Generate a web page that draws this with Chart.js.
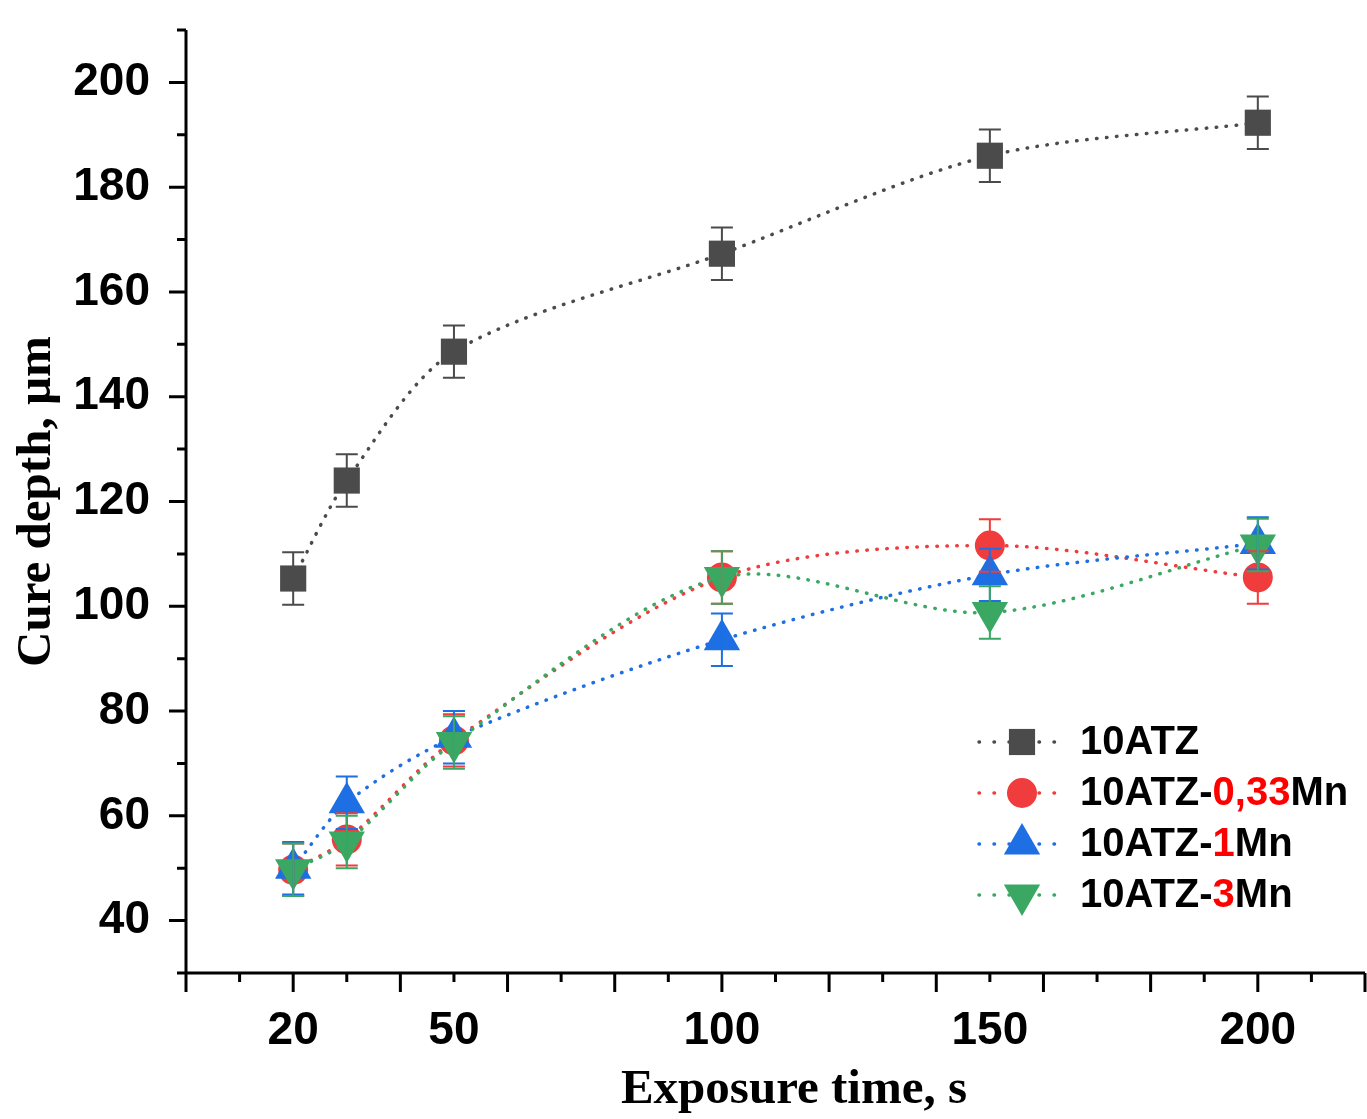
<!DOCTYPE html>
<html>
<head>
<meta charset="utf-8">
<script src="https://cdn.jsdelivr.net/npm/chart.js@4.4.1/dist/chart.umd.min.js"></script>
<style>
  html, body { margin: 0; padding: 0; background: #fff; }
</style>
</head>
<body>
<canvas id="cureChart" width="1367" height="1119"></canvas>
<script>
// ---- data ----
const exposureTimes = [20, 30, 50, 100, 150, 200];
const xTickLabels = [20, 50, 100, 150, 200];
const yTickLabels = [40, 60, 80, 100, 120, 140, 160, 180, 200];

const seriesNames = ['10ATZ', '10ATZ-0,33Mn', '10ATZ-1Mn', '10ATZ-3Mn'];
const atzDepth   = [105.3, 124.0, 148.6, 167.3, 186.0, 192.3];
const mn033Depth = [49.7, 55.5, 74.4, 105.5, 111.6, 105.5];
const mn1Depth   = [50.0, 62.5, 75.0, 93.6, 106.0, 112.0];
const mn3Depth   = [49.7, 55.0, 74.0, 105.5, 98.8, 111.7];

const atzErr   = [5, 5, 5, 5, 5, 5];
const mn033Err = [5, 5, 5, 5, 5, 5];
const mn1Err   = [5, 5, 5, 5, 5, 5];
const mn3Err   = [5, 5, 5, 5, 5, 5];

// legend text split into [plain, highlighted, plain]
const legendParts = [
    ['10ATZ', '', ''],
    ['10ATZ-', '0,33', 'Mn'],
    ['10ATZ-', '1', 'Mn'],
    ['10ATZ-', '3', 'Mn']
];

const colors = {
    gray: '#4b4b4b',
    red: '#f03c3c',
    blue: '#1d6fe3',
    green: '#3aa862',
    highlight: '#ff0000'
};

const TICK_FONT = { family: "'Liberation Sans', Arial, sans-serif", size: 46, weight: 'bold' };
const TITLE_FAMILY = "'Liberation Serif', 'Times New Roman', serif";

function toPoints(values) {
    return exposureTimes.map((t, i) => ({ x: t, y: values[i] }));
}

function makeSeries(label, values, errors, color, style, radius, rotation, order) {
    return {
        label: label,
        data: toPoints(values),
        errors: errors,
        borderColor: color,
        backgroundColor: color,
        borderWidth: 3.5,
        borderDash: [0.5, 9.5],
        borderCapStyle: 'round',
        tension: 0.3,
        pointStyle: style,
        pointRadius: radius,
        pointRotation: rotation,
        pointBackgroundColor: color,
        pointBorderWidth: 0,
        order: order
    };
}

const datasets = [
    makeSeries(seriesNames[0], atzDepth, atzErr, colors.gray, 'rect', 18.5, 0, 3),
    makeSeries(seriesNames[1], mn033Depth, mn033Err, colors.red, 'circle', 15, 0, 2),
    makeSeries(seriesNames[2], mn1Depth, mn1Err, colors.blue, 'triangle', 21, 0, 1),
    makeSeries(seriesNames[3], mn3Depth, mn3Err, colors.green, 'triangle', 21, 180, 0)
];

// error bars drawn through the library's scales
const errorBarPlugin = {
    id: 'errorBars',
    afterDatasetsDraw(chart) {
        const { ctx, scales: { y } } = chart;
        ctx.save();
        ctx.lineWidth = 2;
        [0, 1, 2, 3].forEach(di => {
            const ds = chart.data.datasets[di];
            const meta = chart.getDatasetMeta(di);
            ctx.strokeStyle = ds.borderColor;
            meta.data.forEach((pt, i) => {
                const v = ds.data[i].y;
                const top = y.getPixelForValue(v + ds.errors[i]);
                const bot = y.getPixelForValue(v - ds.errors[i]);
                ctx.beginPath();
                ctx.moveTo(pt.x, top); ctx.lineTo(pt.x, bot);
                ctx.moveTo(pt.x - 11, top); ctx.lineTo(pt.x + 11, top);
                ctx.moveTo(pt.x - 11, bot); ctx.lineTo(pt.x + 11, bot);
                ctx.stroke();
            });
        });
        ctx.restore();
    }
};

// axis lines with major / minor tick marks, x title, legend
const decorPlugin = {
    id: 'decor',
    afterDraw(chart) {
        const { ctx, chartArea: a, scales: { x, y } } = chart;
        ctx.save();
        ctx.strokeStyle = '#000';
        ctx.lineWidth = 3;
        ctx.beginPath();
        ctx.moveTo(a.left, a.top); ctx.lineTo(a.left, a.bottom + 1.5);
        ctx.moveTo(a.left - 9, a.bottom); ctx.lineTo(a.right, a.bottom);
        for (let v = y.min; v <= y.max; v += 10) {
            const py = y.getPixelForValue(v);
            const len = v % 20 === 0 ? 17 : 9;
            ctx.moveTo(a.left - len, py); ctx.lineTo(a.left, py);
        }
        for (let v = x.min; v <= x.max; v += 10) {
            const px = x.getPixelForValue(v);
            const len = v % 20 === 0 ? 19 : 9;
            ctx.moveTo(px, a.bottom); ctx.lineTo(px, a.bottom + len);
        }
        ctx.stroke();

        // x axis title
        ctx.fillStyle = '#000';
        ctx.font = 'bold 49px ' + TITLE_FAMILY;
        ctx.textAlign = 'center';
        ctx.textBaseline = 'middle';
        ctx.fillText('Exposure time, s', 794, 1090);

        // legend
        ctx.textAlign = 'left';
        ctx.font = 'bold 40px ' + TICK_FONT.family;
        const rowY = [742, 793, 844, 895];
        datasets.forEach((ds, i) => {
            const cy = rowY[i];
            ctx.save();
            ctx.strokeStyle = ds.borderColor;
            ctx.lineWidth = 3.5;
            ctx.lineCap = 'round';
            ctx.setLineDash([0.5, 14.5]);
            ctx.beginPath();
            ctx.moveTo(979, cy); ctx.lineTo(1067, cy);
            ctx.stroke();
            ctx.restore();

            ctx.fillStyle = ds.pointBackgroundColor;
            Chart.helpers.drawPoint(ctx, {
                pointStyle: ds.pointStyle,
                radius: ds.pointRadius,
                rotation: ds.pointRotation,
                borderWidth: 0
            }, 1022, cy);

            let tx = 1080;
            legendParts[i].forEach((part, k) => {
                if (!part) return;
                ctx.fillStyle = k === 1 ? colors.highlight : '#000';
                ctx.fillText(part, tx, cy + 1);
                tx += ctx.measureText(part).width;
            });
        });
        ctx.restore();
    }
};

new Chart(document.getElementById('cureChart').getContext('2d'), {
    type: 'line',
    data: { datasets: datasets },
    plugins: [errorBarPlugin, decorPlugin],
    options: {
        responsive: false,
        animation: false,
        clip: false,
        layout: { autoPadding: false, padding: { top: 30, right: 2, left: 0, bottom: 0 } },
        plugins: {
            legend: { display: false },
            tooltip: { enabled: false }
        },
        scales: {
            x: {
                type: 'linear',
                min: 0,
                max: 220,
                grid: { display: false, drawTicks: false },
                border: { display: false },
                afterBuildTicks: scale => { scale.ticks = xTickLabels.map(v => ({ value: v })); },
                afterFit: scale => {
                    scale.height = 146;
                    scale.paddingLeft = 0;
                    scale.paddingRight = 0;
                },
                ticks: { font: TICK_FONT, color: '#000', padding: 31, maxRotation: 0, autoSkip: false }
            },
            y: {
                type: 'linear',
                min: 30,
                max: 210,
                grid: { display: false, drawTicks: false },
                border: { display: false },
                afterBuildTicks: scale => { scale.ticks = yTickLabels.map(v => ({ value: v })); },
                afterFit: scale => {
                    scale.width = 186;
                    scale.paddingTop = 0;
                    scale.paddingBottom = 0;
                },
                ticks: { font: TICK_FONT, color: '#000', padding: 36, autoSkip: false },
                title: {
                    display: true,
                    text: 'Cure depth, µm',
                    color: '#000',
                    font: { family: TITLE_FAMILY, size: 49, weight: 'bold' },
                    padding: { top: 8, bottom: 0 }
                }
            }
        }
    }
});
</script>
</body>
</html>
